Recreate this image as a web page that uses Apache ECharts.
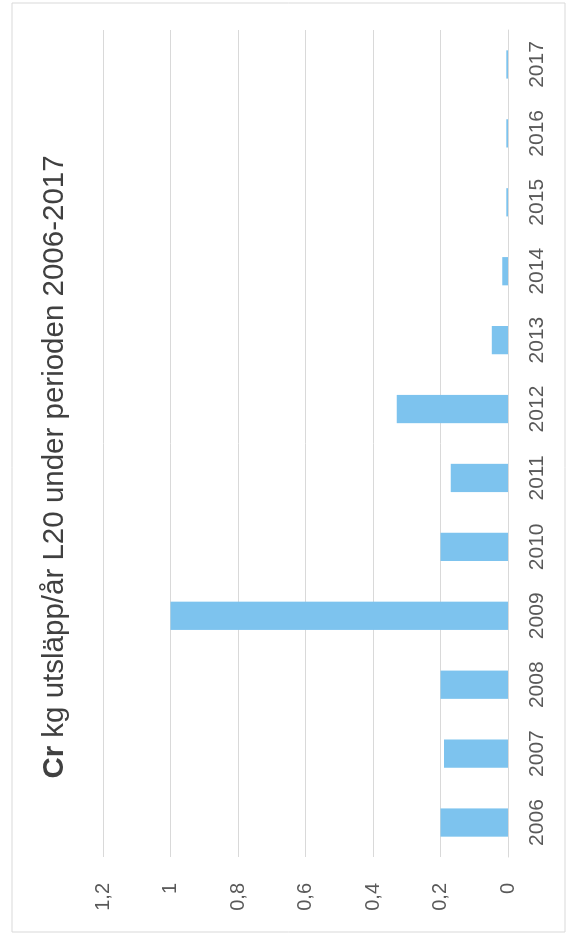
<!DOCTYPE html>
<html>
<head>
<meta charset="utf-8">
<script src="https://cdn.jsdelivr.net/npm/echarts@6/dist/echarts.min.js"></script>
<style>
  html, body { margin: 0; padding: 0; background: #ffffff; overflow: hidden; width: 568px; height: 934px; }
  #chart {
    position: absolute; left: 0; top: 0;
    width: 934px; height: 568px;
    transform-origin: 0 0;
    transform: translate(0px, 934px) rotate(-90deg);
  }
</style>
</head>
<body>
<div id="chart"></div>
<script>
// Data
const categories = ['2006','2007','2008','2009','2010','2011','2012','2013','2014','2015','2016','2017'];
const crValues = [0.2, 0.19, 0.2, 1.0, 0.2, 0.17, 0.33, 0.048, 0.017, 0.005, 0.005, 0.005];
const valueTickLabels = ['0','0,2','0,4','0,6','0,8','1','1,2'];
const titleBold = 'Cr';
const titleRest = ' kg utsläpp/år L20 under perioden 2006-2017';

const FONT = '"Liberation Sans", Arial, sans-serif';
const chart = echarts.init(document.getElementById('chart'), null, { renderer: 'canvas' });

chart.setOption({
  backgroundColor: '#ffffff',
  animation: false,
  title: {
    text: '{b|' + titleBold + '}' + titleRest,
    left: 'center',
    top: 35,
    textStyle: {
      fontFamily: FONT,
      fontSize: 29.5,
      fontWeight: 'normal',
      color: '#404040',
      rich: {
        b: { fontFamily: FONT, fontSize: 29.5, fontWeight: 'bold', color: '#404040' }
      }
    }
  },
  graphic: [{
    type: 'rect',
    shape: { x: 2, y: 12, width: 929, height: 553 },
    style: { fill: 'none', stroke: '#d9d9d9', lineWidth: 1 },
    silent: true,
    z: -1
  }],
  grid: { left: 77, right: 30, top: 103, bottom: 60 },
  xAxis: {
    type: 'category',
    data: categories,
    axisLine: { show: true, lineStyle: { color: '#d9d9d9', width: 1 } },
    axisTick: { show: false },
    axisLabel: { fontFamily: FONT, fontSize: 21, color: '#595959', margin: 19, interval: 0 },
    splitLine: { show: false }
  },
  yAxis: {
    type: 'value',
    min: 0,
    max: 1.2,
    interval: 0.2,
    axisLine: { show: false },
    axisTick: { show: false },
    axisLabel: {
      fontFamily: FONT, fontSize: 20, color: '#595959', margin: 26,
      formatter: function (v) { return valueTickLabels[Math.round(v / 0.2)]; }
    },
    splitLine: { show: true, lineStyle: { color: '#d9d9d9', width: 1 } }
  },
  series: [{
    type: 'bar',
    data: crValues,
    barCategoryGap: '59%',
    itemStyle: { color: '#7dc3ee' },
    emphasis: { disabled: true }
  }]
});
</script>
</body>
</html>
